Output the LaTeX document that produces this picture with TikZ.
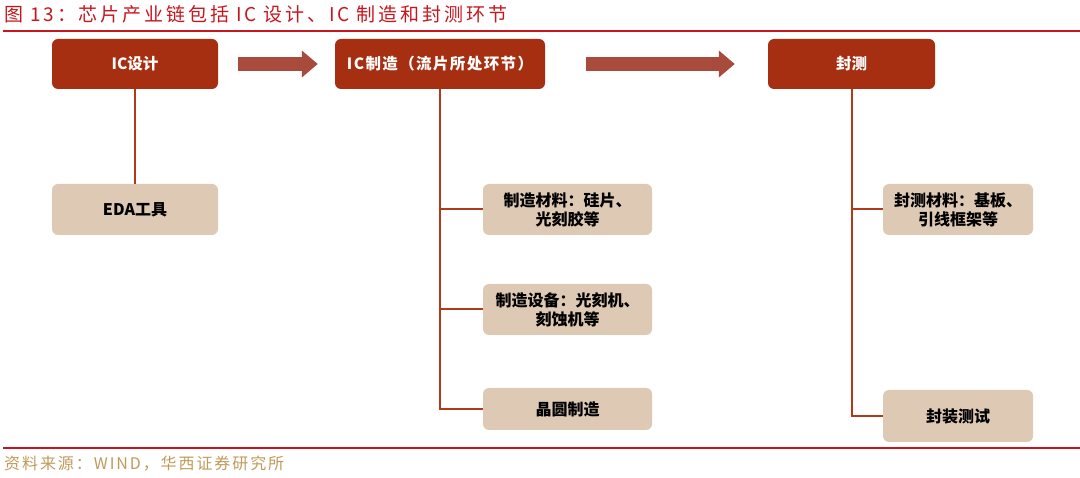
\documentclass[tikz,border=0pt]{standalone}
\usepackage{fontspec}
\setmainfont{Liberation Sans}
\newfontfamily\cjk{Noto Sans CJK SC}
\newfontfamily\cjkt[LetterSpace=15]{Noto Sans CJK SC}
\newfontfamily\cjkf[LetterSpace=12]{Noto Sans CJK SC}
\newfontfamily\cjkw[LetterSpace=9]{Noto Sans CJK SC}
\usetikzlibrary{arrows.meta}
\definecolor{darkred}{HTML}{A52F10}
\definecolor{arrowc}{HTML}{A84B3D}
\definecolor{beige}{HTML}{DEC9B4}
\definecolor{linec}{HTML}{B03A1A}
\definecolor{titlered}{HTML}{C8161E}
\definecolor{footgold}{HTML}{C09A5A}
\tikzset{
  topbox/.style={rectangle, rounded corners=6pt, fill=darkred, text=white, minimum width=166pt, minimum height=50pt, inner sep=0pt, font=\cjk\fontsize{15.5}{18}\selectfont\bfseries},
  subbox/.style={rectangle, rounded corners=6pt, fill=beige, text=black, minimum width=169pt, minimum height=51pt, inner sep=0pt, align=center, font=\cjk\fontsize{16}{19}\selectfont\bfseries},
  conn/.style={draw=linec, line width=2pt},
  bigarrow/.style={draw=arrowc, line width=14pt, -{Triangle[width=26pt,length=16pt]}},
  rule/.style={draw=titlered, line width=1.6pt}
}
\begin{document}
\begin{tikzpicture}[x=1pt,y=-1pt]
\useasboundingbox (0,0) rectangle (1080,478);
% title and rules
\node[anchor=west, text=titlered, inner sep=0pt, font=\cjkt\fontsize{19}{21}\selectfont] (title) at (4,14) {图 13：芯片产业链包括 IC 设计、IC 制造和封测环节};
\draw[rule] (3,31) -- (1080,31);
\draw[rule] (3,448) -- (1080,448);
\node[anchor=west, text=footgold, inner sep=0pt, font=\cjkf\fontsize{16}{18}\selectfont] (foot) at (4,464) {资料来源：WIND，华西证券研究所};
% top boxes
\node[topbox] (ic) at (135,64) {IC设计};
\node[topbox, minimum width=210pt, font=\cjkw\fontsize{15.5}{18}\selectfont\bfseries] (mfg) at (440,64) {IC制造（流片所处环节）};
\node[topbox, minimum width=167pt] (pkg) at (851.5,64) {封测};
% big arrows
\draw[bigarrow] ([xshift=20pt]ic.east) -- ([xshift=-17pt]mfg.west);
\draw[bigarrow] ([xshift=41pt]mfg.east) -- ([xshift=-33pt]pkg.west);
% sub boxes
\node[subbox, minimum width=166pt] (eda) at (135,209.5) {EDA工具};
\node[subbox] (m1) at (567.5,209.5) {制造材料：硅片、\\光刻胶等};
\node[subbox] (m2) at (567.5,309.5) {制造设备：光刻机、\\刻蚀机等};
\node[subbox, minimum height=42pt] (m3) at (567.5,409) {晶圆制造};
\node[subbox, minimum width=150pt] (p1) at (958,209.5) {封测材料：基板、\\引线框架等};
\node[subbox, minimum width=150pt, minimum height=52pt] (p2) at (958,416) {封装测试};
% connectors
\draw[conn] (ic.south) -- (eda.north);
\draw[conn] (mfg.south) |- (m3.west);
\draw[conn] (mfg.south |- m1.west) -- (m1.west);
\draw[conn] (mfg.south |- m2.west) -- (m2.west);
\draw[conn] (pkg.south) |- (p2.west);
\draw[conn] (pkg.south |- p1.west) -- (p1.west);
\end{tikzpicture}
\end{document}
